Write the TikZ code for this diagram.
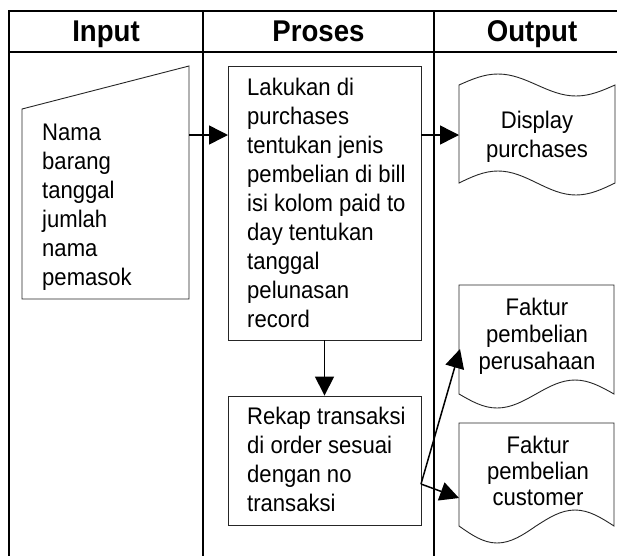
\documentclass[tikz,border=0pt]{standalone}
\usepackage{fontspec}
\setmainfont{Liberation Sans}
\newfontfamily\lab[FakeStretch=0.92]{Liberation Sans}
\usetikzlibrary{arrows.meta}
\begin{document}
\begin{tikzpicture}[x=1pt,y=-1pt,
  frame/.style={line width=2pt,black},
  shp/.style={line width=0.9pt,black!85},
  conn/.style={line width=1.5pt,black,-{Triangle[length=19pt,width=19pt]}},
  head/.style={font=\lab\bfseries\fontsize{30}{36}\selectfont,anchor=base,inner sep=0pt},
  txt/.style={font=\lab\fontsize{24}{29}\selectfont,inner sep=0pt,align=left,anchor=north west},
  ctxt/.style={font=\lab\fontsize{24}{27}\selectfont,inner sep=0pt,align=center,anchor=north},
  box/.style={shp,draw,fill=white,rectangle,inner sep=0pt}]
\useasboundingbox (0,0) rectangle (617,555);
\clip (0,0) rectangle (617,555);
\fill[white] (0,0) rectangle (617,555);

% swimlane frame
\draw[frame] (650,11) -- (9,11) -- (9,570);
\draw[frame] (9,52) -- (650,52);
\draw[frame] (203,11) -- (203,570);
\draw[frame] (434,11) -- (434,570);
\node[head] (hin) at (106,41) {Input};
\node[head] (hpr) at (318.5,41) {Proses};
\node[head] (hout) at (532,41) {Output};

% manual input
\draw[shp] (22,109) -- (189,66) -- (189,299) -- (22,299) -- cycle;
\node[txt] (inp) at (42,120) {\rule{0pt}{20pt}Nama\\barang\\tanggal\\jumlah\\nama\\pemasok};
\coordinate (inpR) at (189,135);

% process boxes
\node[box,minimum width=193pt,minimum height=274pt] (lak) at (324.5,203) {};
\node[txt] (laktxt) at (247,75) {\rule{0pt}{20pt}Lakukan di\\purchases\\tentukan jenis\\pembelian di bill\\isi kolom paid to\\day tentukan\\tanggal\\pelunasan\\record};
\node[box,minimum width=193pt,minimum height=129pt] (rek) at (324.5,460.5) {};
\node[txt] (rektxt) at (247,404) {\rule{0pt}{20pt}Rekap transaksi\\di order sesuai\\dengan no\\transaksi};
\coordinate (lakL) at (228,135);
\coordinate (lakR) at (421,135);
\coordinate (rekR) at (421,484);

% display (tape)
\draw[shp] (459,85) sin (498,74) cos (537,85) sin (576,96) cos (615,85)
  -- (615,183) sin (576,195) cos (537,183) sin (498,171) cos (459,183) -- cycle;
\node[ctxt,font=\lab\fontsize{24}{29}\selectfont] (disp) at (537,108) {\rule{0pt}{20pt}Display\\purchases};
\coordinate (dispL) at (459,135);

% documents
\draw[shp] (459,285) -- (614,285) -- (614,394) sin (575,380) cos (536,394) sin (497,408) cos (459,394) -- cycle;
\node[ctxt] (fak1) at (537,295) {\rule{0pt}{20pt}Faktur\\pembelian\\perusahaan};
\coordinate (fak1L) at (460,349);
\draw[shp] (459,423) -- (614,423) -- (614,526) sin (575,510) cos (536,526) sin (497,543) cos (459,526) -- cycle;
\node[ctxt,font=\lab\fontsize{24}{26}\selectfont] (fak2) at (538,433) {\rule{0pt}{20pt}Faktur\\pembelian\\customer};
\coordinate (fak2L) at (459,498);

% connectors
\draw[conn] (inpR) -- (lakL);
\draw[conn] (lakR) -- (dispL);
\draw[conn] (lak.south) -- (rek.north);
\draw[conn] (rekR) -- (fak1L);
\draw[conn] (rekR) -- (fak2L);
\end{tikzpicture}
\end{document}
